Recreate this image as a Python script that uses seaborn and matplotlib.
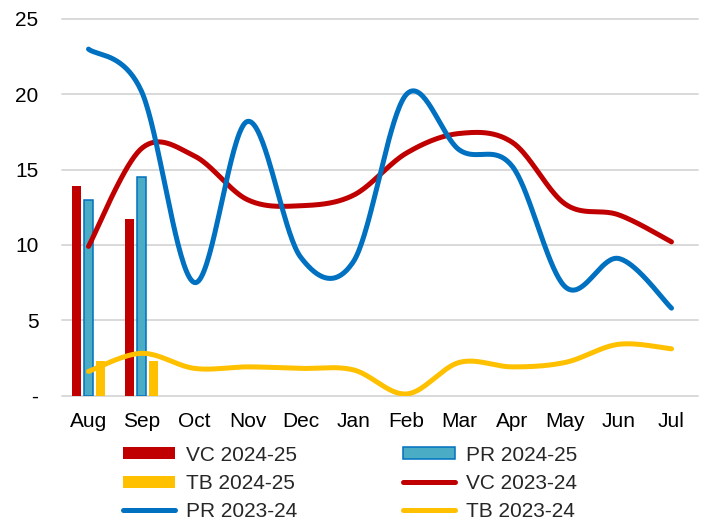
import numpy as np
import pandas as pd
import matplotlib
matplotlib.use("Agg")
import matplotlib.pyplot as plt
from matplotlib.patches import Patch
from matplotlib.lines import Line2D
import seaborn as sns

# ---------------- data ----------------
months = ["Aug", "Sep", "Oct", "Nov", "Dec", "Jan", "Feb", "Mar", "Apr", "May", "Jun", "Jul"]

bar_months = ["Aug", "Sep"]
vc_2425 = [13.9, 11.7]
pr_2425 = [13.0, 14.5]
tb_2425 = [2.3, 2.3]

vc_2324 = [9.9, 16.4, 15.9, 13.0, 12.6, 13.3, 16.1, 17.4, 16.8, 12.7, 12.0, 10.2]
pr_2324 = [23.0, 20.2, 7.5, 18.2, 9.2, 8.9, 20.0, 16.3, 15.2, 7.2, 9.1, 5.8]
tb_2324 = [1.6, 2.8, 1.8, 1.9, 1.8, 1.7, 0.1, 2.2, 1.9, 2.2, 3.4, 3.1]

yticks = [0, 5, 10, 15, 20, 25]
ytick_labels = ["-", "5", "10", "15", "20", "25"]

RED = "#C00000"
BLUE = "#0070C0"
LBLUE = "#4BACC6"
YEL = "#FFC000"
GRID = "#D9D9D9"

sns.set_style("white")
plt.rcParams["font.family"] = ["Liberation Sans", "DejaVu Sans"]
plt.rcParams["font.size"] = 15


def smooth_curve(values, n=40):
    """Excel-like smoothed line: cubic Bezier through points (Catmull-Rom, tension 1/6)."""
    xs = np.arange(len(values), dtype=float)
    ys = np.asarray(values, dtype=float)
    P = np.column_stack([xs, ys])
    out = []
    for i in range(len(P) - 1):
        p0 = P[i - 1] if i > 0 else P[i]
        p1 = P[i]
        p2 = P[i + 1]
        p3 = P[i + 2] if i + 2 < len(P) else P[i + 1]
        c1 = p1 + (p2 - p0) / 6.0
        c2 = p2 - (p3 - p1) / 6.0
        t = np.linspace(0, 1, n)[:, None]
        if i > 0:
            t = t[1:]
        seg = ((1 - t) ** 3) * p1 + 3 * ((1 - t) ** 2) * t * c1 + 3 * (1 - t) * t ** 2 * c2 + t ** 3 * p2
        out.append(seg)
    seg = np.vstack(out)
    return seg[:, 0], seg[:, 1]


fig = plt.figure(figsize=(7.06, 5.23), dpi=100)
ax = fig.add_axes([62 / 706, 1 - 395.5 / 523, (698 - 62) / 706, (395.5 - 19) / 523])

# bars
series_names = ["VC 2024-25", "PR 2024-25", "TB 2024-25"]
rows = []
for s, vals in zip(series_names, [vc_2425, pr_2425, tb_2425]):
    for m, v in zip(bar_months, vals):
        rows.append({"month": m, "series": s, "value": v})
df = pd.DataFrame(rows)

sns.barplot(data=df, x="month", y="value", hue="series", order=months,
            hue_order=series_names, palette=[RED, LBLUE, YEL],
            width=0.67, gap=0.19, linewidth=0, saturation=1, legend=False,
            errorbar=None, ax=ax, zorder=2)
for bar in ax.containers[1]:
    bar.set_edgecolor(BLUE)
    bar.set_linewidth(1.1)

# smoothed lines
for vals, col in [(vc_2324, RED), (pr_2324, BLUE), (tb_2324, YEL)]:
    sx, sy = smooth_curve(vals)
    sns.lineplot(x=sx, y=sy, sort=False, estimator=None, color=col, lw=3.6,
                 solid_capstyle="round", ax=ax, zorder=3)

ax.set_xlim(-0.5, 11.5)
ax.set_ylim(0, 25)
ax.set_yticks(yticks)
ax.set_yticklabels(ytick_labels)
ax.set_xticks(range(len(months)))
ax.set_xticklabels(months)
ax.set_xlabel("")
ax.set_ylabel("")
ax.tick_params(axis="both", length=0, labelsize=15, colors="#000000")
ax.tick_params(axis="y", pad=17)
ax.tick_params(axis="x", pad=12)
for sp in ax.spines.values():
    sp.set_visible(False)
ax.grid(axis="y", color=GRID, lw=1.4, zorder=0)
ax.grid(axis="x", visible=False)
ax.set_axisbelow(True)
for gl in ax.get_ygridlines():
    gl.set_clip_on(False)

# legend
h_vc25 = Patch(facecolor=RED, edgecolor="none", label="VC 2024-25")
h_pr25 = Patch(facecolor=LBLUE, edgecolor=BLUE, linewidth=1.1, label="PR 2024-25")
h_tb25 = Patch(facecolor=YEL, edgecolor="none", label="TB 2024-25")
h_vc24 = Line2D([], [], color=RED, lw=3.6, solid_capstyle="round", label="VC 2023-24")
h_pr24 = Line2D([], [], color=BLUE, lw=3.6, solid_capstyle="round", label="PR 2023-24")
h_tb24 = Line2D([], [], color=YEL, lw=3.6, solid_capstyle="round", label="TB 2023-24")
handles = [h_vc25, h_tb25, h_pr24, h_pr25, h_vc24, h_tb24]
fig.legend(handles=handles, labels=[h.get_label() for h in handles], ncol=2,
           loc="center", bbox_to_anchor=(350 / 706, 1 - 483.5 / 523),
           frameon=False, fontsize=15, handlelength=2.5, handleheight=0.51,
           handletextpad=0.53, columnspacing=5.1, labelspacing=0.44, borderpad=0)

fig.savefig("out.png", dpi=100)
